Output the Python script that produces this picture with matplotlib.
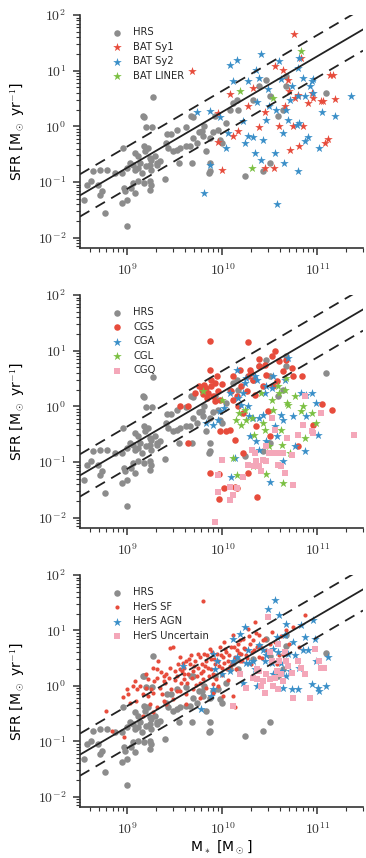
import numpy as np
import matplotlib
matplotlib.use("Agg")
import matplotlib.pyplot as plt
from matplotlib.ticker import FixedLocator, FuncFormatter, LogLocator, NullFormatter

# ---- data: (log10 M*, log10 SFR) ----
HRS = [
    (9.27, 0.53), (9.17, 0.17), (9.20, -0.02), (9.26, -0.02), (9.42, -0.14), (9.46, -0.14),
    (9.52, -0.06), (9.62, -0.02), (9.69, 0.17), (9.75, -0.10), (9.80, -0.18),
    (8.95, -0.39), (9.08, -0.48), (9.11, -0.54), (9.17, -0.36), (9.18, -0.45), (9.22, -0.39),
    (9.24, -0.57), (9.25, -0.60), (9.29, -0.54), (9.31, -0.69), (9.34, -0.63), (9.41, -0.30),
    (9.43, -0.39), (9.48, -0.45), (9.52, -0.42), (9.55, -0.39), (9.62, -0.36), (9.66, -0.36),
    (9.69, -0.21), (9.73, -0.30), (9.83, -0.45), (9.87, -0.21), (9.90, -0.10),
    (8.71, -0.78), (8.78, -0.78), (8.87, -0.84), (8.94, -0.83), (8.99, -0.75), (9.03, -0.66),
    (9.06, -0.69), (9.08, -0.78), (9.11, -0.75), (9.13, -0.66), (9.15, -0.83), (9.20, -0.72),
    (9.24, -0.69), (9.25, -0.78), (9.31, -0.66), (9.39, -0.95), (9.54, -0.66), (9.68, -0.66),
    (9.86, -0.84),
    (8.62, -0.99), (8.69, -1.05), (8.73, -1.17), (8.71, -1.23), (8.54, -1.32), (8.57, -1.05),
    (8.96, -1.11), (8.97, -1.17), (8.94, -1.38), (8.99, -1.32), (9.04, -1.11), (9.06, -1.02),
    (9.08, -1.20), (9.11, -0.99), (9.17, -1.02), (9.24, -0.99), (9.24, -1.14), (9.25, -1.05),
    (8.76, -1.56), (9.00, -1.79), (8.64, -0.81),
    (10.04, 0.06), (10.08, 0.30), (10.11, 0.42), (10.15, 0.48), (10.16, 0.30), (10.24, -0.90),
    (10.32, 0.48), (10.38, 0.72), (10.46, 0.84), (10.50, 0.54), (10.50, -0.66), (10.43, -0.81),
    (10.59, 0.18), (10.64, 0.30), (10.67, 0.72), (10.67, 0.91), (11.09, 0.60), (9.87, -0.66),
    (9.87, -0.81), (9.92, 0.18), (9.95, -0.06), (9.97, -0.24), (10.00, -0.30), (9.78, -0.09),
    (9.81, 0.00), (9.67, 0.18), (9.16, 0.18),
]

BAT_SY1 = [
    (9.68, 1.00), (10.75, 1.66), (10.08, 0.58), (9.95, 0.24), (9.95, -0.29), (9.99, -0.78),
    (10.11, -0.18), (10.16, -0.08), (10.27, 0.36), (10.32, 0.69), (10.39, -0.02), (10.45, 0.25),
    (10.45, -0.75), (10.54, -0.75), (10.55, 1.08), (10.60, 0.00), (10.64, 1.02), (10.69, 0.84),
    (10.70, 0.63), (10.71, -0.42), (10.74, 0.00), (10.76, 0.51), (10.80, 0.57), (10.81, -0.36),
    (10.83, 1.23), (10.85, 0.00), (10.90, 0.42), (10.94, 0.60), (10.95, 0.51), (11.04, 0.45),
    (11.06, 0.45), (11.08, -0.30), (11.11, -0.23), (11.13, 0.93), (11.16, 0.93), (11.18, 0.50),
    (10.66, 0.36),
]
BAT_SY2 = [
    (9.81, -1.19), (9.87, -0.69), (9.73, 0.25), (9.87, 0.27), (9.97, 0.16), (10.04, -0.39),
    (10.06, -0.12), (10.08, 1.11), (10.15, 1.19), (10.22, 0.09), (10.24, -0.30), (10.27, -0.18),
    (10.32, -0.19), (10.34, -0.48), (10.35, 1.02), (10.36, 0.43), (10.39, 0.87), (10.41, 1.30),
    (10.41, -0.60), (10.43, -0.24), (10.46, 0.12), (10.48, 0.67), (10.49, 0.36), (10.55, -0.47),
    (10.56, 0.30), (10.57, -1.39), (10.60, 1.18), (10.62, 0.85), (10.64, -0.12), (10.65, -0.65),
    (10.67, 0.30), (10.69, 0.12), (10.71, 0.48), (10.73, 0.72), (10.78, 0.03), (10.80, 1.05),
    (10.80, 0.55), (10.81, 1.23), (10.81, 0.06), (10.80, -0.81), (10.85, 0.87), (10.87, 0.54),
    (10.87, -0.27), (10.90, -0.19), (10.92, 0.73), (10.94, 0.81), (10.95, 0.60), (10.95, 0.85),
    (11.02, -0.39), (11.05, 0.25), (11.18, 0.18), (11.35, 0.54), (10.11, 0.81), (10.27, 0.81),
]
BAT_LINER = [(10.19, 0.64), (10.53, 0.51), (10.83, 1.35), (10.31, -0.75)]

CGS = [
    (9.87, 1.17), (10.27, 1.16), (9.64, 0.00), (9.64, -0.66), (9.75, 0.37), (9.81, 0.39),
    (9.83, 0.33), (9.85, 0.24), (9.87, 0.66), (9.88, 0.36), (9.90, 0.18), (9.92, 0.42),
    (9.94, 0.54), (9.95, 0.27), (9.97, 0.12), (9.87, -1.19), (9.97, -0.45), (9.96, -1.22),
    (9.96, -1.66), (10.02, -1.47), (10.04, -0.45), (10.08, -0.42), (10.09, 0.27), (10.11, 0.54),
    (10.13, -0.60), (10.13, -1.44), (10.15, 0.18), (10.15, -1.47), (10.18, 0.66), (10.20, 0.36),
    (10.22, -0.84), (10.26, 0.27), (10.27, -1.20), (10.27, 0.54), (10.29, 0.66), (10.30, 0.60),
    (10.32, 0.48), (10.34, 0.21), (10.35, -0.36), (10.36, -1.62), (10.38, 0.85), (10.39, 0.72),
    (10.43, 0.36), (10.45, 0.75), (10.46, 0.57), (10.48, -0.09), (10.50, -0.54), (10.52, 0.91),
    (10.53, 0.37), (10.55, 1.00), (10.57, 0.45), (10.60, 0.81), (10.64, 0.63), (10.67, 0.84),
    (10.73, 0.69), (10.74, 0.55), (10.80, -0.72), (10.84, 0.54), (10.95, -0.33), (11.05, 0.05),
    (11.15, -0.06), (9.78, 0.30), (9.80, 0.22), (9.84, 0.15), (9.88, 0.48), (9.92, 0.10),
    (10.00, 0.40), (9.71, 0.24), (9.55, 0.01), (10.11, 0.12), (10.16, 0.00), (10.22, -0.12),
]
CGA = [
    (9.83, -0.30), (9.90, -0.33), (9.95, -0.24), (9.97, -0.09), (10.02, -0.03), (10.08, 0.24),
    (10.09, -1.26), (10.13, -0.93), (10.15, 0.66), (10.16, 0.15), (10.20, 0.03), (10.22, 0.24),
    (10.24, 0.42), (10.25, 0.51), (10.27, 0.00), (10.28, -0.17), (10.29, -0.54), (10.32, -0.21),
    (10.34, 0.54), (10.35, -0.63), (10.36, 0.48), (10.38, -0.78), (10.39, -0.21), (10.43, -0.15),
    (10.45, 0.24), (10.46, 0.36), (10.46, -0.63), (10.50, -1.35), (10.52, 0.33), (10.53, 0.54),
    (10.55, -0.36), (10.57, -0.54), (10.62, -0.15), (10.64, -0.99), (10.64, -0.24), (10.66, 0.48),
    (10.69, 0.87), (10.74, -0.18), (10.76, -0.72), (10.83, 0.24), (10.87, -0.81), (10.88, -0.18),
    (10.94, 0.24), (10.99, 0.06), (11.01, -0.51), (10.88, 0.21),
]
CGL = [
    (9.80, 0.27), (9.99, 0.12), (10.11, -0.93), (10.14, -0.24), (10.15, -1.23), (10.17, -0.12),
    (10.20, -0.33), (10.24, -0.06), (10.25, -0.24), (10.32, -1.08), (10.33, -0.51), (10.41, 0.24),
    (10.43, -0.30), (10.45, -0.42), (10.46, -1.22), (10.49, -0.72), (10.52, 0.12), (10.53, -0.06),
    (10.59, 0.37), (10.60, 0.24), (10.62, -0.42), (10.63, -0.69), (10.64, -1.38), (10.66, 0.30),
    (10.67, 0.51), (10.68, 0.06), (10.69, 0.03), (10.76, 0.18), (10.83, -0.09), (10.85, 0.00),
    (10.87, -0.57), (10.94, -0.12), (10.99, -0.30), (10.31, -0.21), (10.71, -0.84),
]
CGQ = [
    (9.92, -2.07), (9.95, -1.23), (9.95, -1.53), (10.00, -0.97), (10.08, -1.44), (10.08, -1.68),
    (10.11, -1.60), (10.15, -1.47), (10.22, -1.26), (10.27, -1.05), (10.31, -0.78), (10.33, -1.08),
    (10.35, -0.99), (10.41, -1.17), (10.43, -0.96), (10.46, -0.99), (10.49, -0.84), (10.52, -0.21),
    (10.53, -0.84), (10.55, -0.42), (10.59, -1.05), (10.62, -1.08), (10.64, -0.84), (10.66, -1.20),
    (10.68, -0.57), (10.73, -0.87), (10.74, -1.41), (10.80, -0.51), (10.85, -0.33), (10.87, 0.18),
    (10.94, -0.45), (10.95, -0.48), (11.04, -0.12), (11.39, -0.51), (10.34, -0.84), (10.39, -1.08),
    (10.46, -0.72), (10.57, -0.84),
]

HERS_SF = [
    (8.84, -0.82), (8.96, -0.93), (8.99, -0.06), (9.01, -0.14), (9.06, -0.01), (9.08, 0.09),
    (9.09, -0.27), (9.13, 0.00), (9.16, -0.15), (9.16, -0.55), (9.19, 0.21), (9.20, -0.03),
    (9.22, -0.18), (9.22, 0.12), (9.24, -0.33), (9.27, -0.12), (9.27, 0.33), (9.27, -0.48),
    (9.31, 0.15), (9.31, 0.30), (9.31, -0.39), (9.32, 0.45), (9.34, -0.03), (9.36, -0.15),
    (9.38, 0.09), (9.38, 0.18), (9.38, -0.27), (9.41, 0.21), (9.41, -0.33), (9.45, 0.33),
    (9.45, 0.68), (9.48, 0.71), (9.48, -0.24), (9.50, 0.27), (9.52, 0.18), (9.53, 0.39),
    (9.55, 0.52), (9.55, -0.09), (9.57, 0.27), (9.59, 0.12), (9.60, 0.33), (9.62, 0.45),
    (9.62, -0.15), (9.62, -0.33), (9.64, 0.21), (9.66, 0.39), (9.67, 0.55), (9.69, 0.27),
    (9.69, -0.06), (9.71, 0.45), (9.73, 0.18), (9.74, 0.33), (9.76, 0.52), (9.76, -0.21),
    (9.76, 0.06), (9.78, 0.39), (9.80, 0.27), (9.80, 1.53), (9.81, 0.58), (9.83, 0.45),
    (9.83, -0.03), (9.85, 0.33), (9.87, 0.67), (9.88, 0.48), (9.90, 0.21), (9.90, 0.03),
    (9.92, 0.39), (9.94, 0.58), (9.95, 0.45), (9.97, 0.70), (9.99, 0.33), (10.01, 0.52),
    (10.01, -0.18), (10.02, 0.79), (10.04, 0.61), (10.06, 0.45), (10.08, 0.36), (10.09, 0.70),
    (10.11, 0.91), (10.11, -0.18), (10.13, 0.52), (10.13, -0.39), (10.15, 0.64), (10.16, 0.76),
    (10.18, 0.45), (10.20, 0.58), (10.22, 0.85), (10.24, 0.67), (10.25, 0.55), (10.27, 1.03),
    (10.29, 0.76), (10.31, 0.61), (10.32, 0.82), (10.34, 1.15), (10.36, 0.70), (10.38, 0.91),
    (10.39, 0.52), (10.43, 0.82), (10.46, 0.64), (10.50, 0.76), (10.52, 0.97), (10.57, 0.39),
    (10.64, 0.58), (10.67, 1.00), (10.74, 1.06), (10.81, 0.70), (10.87, 1.27),
    (9.50, 0.10), (9.55, 0.30), (9.58, 0.42), (9.60, 0.22), (9.63, 0.05), (9.65, 0.48),
    (9.68, 0.15), (9.70, 0.36), (9.72, 0.02), (9.74, 0.58), (9.77, 0.24), (9.79, 0.12),
    (9.82, 0.36), (9.84, 0.55), (9.86, 0.18), (9.88, 0.30), (9.89, 0.62), (9.91, 0.48),
    (9.93, 0.12), (9.96, 0.36), (9.98, 0.55), (10.00, 0.20), (10.02, 0.42), (10.03, 0.66),
    (10.05, 0.30), (10.07, 0.55), (10.10, 0.40), (10.12, 0.70), (10.14, 0.30), (10.17, 0.60),
    (10.19, 0.82), (10.21, 0.45), (10.23, 0.68), (10.26, 0.50), (10.28, 0.90), (10.30, 0.40),
    (10.33, 0.65), (10.35, 0.95), (10.40, 0.70), (10.42, 0.50), (10.45, 0.85), (10.48, 0.60),
    (10.55, 0.80), (10.60, 0.55), (10.62, 0.90), (10.70, 0.75), (9.40, 0.05), (9.44, 0.15),
    (9.35, 0.25), (9.28, 0.08), (9.25, -0.05), (9.46, -0.05), (9.52, -0.10), (9.56, 0.05),
    (9.90, -0.12), (9.95, 0.00), (10.06, 0.10), (8.95, -0.20), (9.03, -0.30), (9.10, -0.05),
    (8.77, -0.45),
]
HERS_AGN = [
    (9.77, -0.42), (9.88, -0.18), (9.90, -0.06), (9.90, 0.58), (9.58, 0.36), (9.92, 0.30),
    (9.94, 0.45), (9.99, 0.21), (10.08, 0.27), (10.11, 0.45), (10.15, 0.52), (10.18, 0.94),
    (10.22, 0.06), (10.24, 1.06), (10.25, 0.42), (10.27, 0.64), (10.32, 0.45), (10.34, 0.30),
    (10.36, 0.00), (10.38, 0.73), (10.43, 0.64), (10.45, 0.45), (10.46, 0.55), (10.48, 1.39),
    (10.52, 0.42), (10.53, 0.67), (10.55, 1.55), (10.57, 0.88), (10.59, 0.61), (10.60, 1.27),
    (10.62, 0.42), (10.63, 0.27), (10.64, -0.03), (10.66, 0.91), (10.67, 1.12), (10.69, 0.58),
    (10.71, 0.27), (10.73, -0.06), (10.74, 0.79), (10.76, 0.55), (10.80, -0.06), (10.81, 0.33),
    (10.83, 1.09), (10.85, 0.64), (10.87, 0.88), (10.90, 0.64), (10.94, 0.03), (10.95, 1.18),
    (10.97, 0.85), (10.99, 0.45), (11.01, -0.03), (11.02, -0.09), (11.09, 0.00), (11.11, 0.52),
    (10.67, 0.18), (10.53, 0.22), (10.11, 0.85), (10.28, 0.42),
]
HERS_UNC = [
    (10.11, -0.36), (10.18, 0.21), (10.25, -0.03), (10.32, 0.15), (10.36, 0.12), (10.39, 0.27),
    (10.41, 0.00), (10.43, 0.09), (10.46, 0.21), (10.48, 1.24), (10.50, 0.61), (10.52, 0.45),
    (10.53, 0.00), (10.55, 0.15), (10.57, 0.27), (10.59, 0.76), (10.60, 0.45), (10.62, 0.21),
    (10.64, 0.09), (10.66, 0.61), (10.67, 0.45), (10.69, 0.36), (10.73, 0.24), (10.74, -0.21),
    (10.80, 0.45), (10.83, 0.33), (10.87, 0.21), (10.92, -0.21), (10.97, 0.67), (11.02, 0.45),
    (11.04, 0.33), (11.07, 0.33), (10.50, 0.12), (10.45, -0.12), (10.36, 0.30), (10.59, -0.06),
]

# main-sequence relation: log SFR = slope * log M + zero, scatter band
MS_SLOPE = 1.0
MS_ZERO = -9.74
MS_SCATTER = 0.38

GRAY = "#8c8c8c"
RED = "#e74c3c"
BLUE = "#3a8fc8"
GREEN = "#7bc043"
PINK = "#f4a7b9"

plt.rcParams["font.family"] = ["DejaVu Sans"]
plt.rcParams["mathtext.fontset"] = "cm"
plt.rcParams["axes.edgecolor"] = "#333333"
plt.rcParams["text.color"] = "#262626"

XLIM = (10 ** 8.5, 10 ** 11.48)
YLIM = (10 ** -2.185, 1e2)


def xy(pairs):
    a = np.array(pairs, dtype=float)
    return 10 ** a[:, 0], 10 ** a[:, 1]


def decade_fmt(v, pos):
    return r"$10^{%d}$" % int(round(np.log10(v)))


def style_axes(ax):
    ax.set_xscale("log")
    ax.set_yscale("log")
    ax.set_xlim(*XLIM)
    ax.set_ylim(*YLIM)
    for s in ("top", "right"):
        ax.spines[s].set_visible(False)
    for s in ("left", "bottom"):
        ax.spines[s].set_linewidth(1.2)
    ax.xaxis.set_major_locator(FixedLocator([1e9, 1e10, 1e11]))
    ax.yaxis.set_major_locator(FixedLocator([1e-2, 1e-1, 1e0, 1e1, 1e2]))
    ax.xaxis.set_minor_locator(LogLocator(base=10, subs=np.arange(2, 10)))
    ax.yaxis.set_minor_locator(LogLocator(base=10, subs=np.arange(2, 10)))
    ax.xaxis.set_major_formatter(FuncFormatter(decade_fmt))
    ax.yaxis.set_major_formatter(FuncFormatter(decade_fmt))
    ax.xaxis.set_minor_formatter(NullFormatter())
    ax.yaxis.set_minor_formatter(NullFormatter())
    ax.tick_params(which="major", direction="out", length=5, width=1.1,
                   colors="#333333", labelsize=10, pad=5)
    ax.tick_params(which="minor", direction="out", length=3, width=0.8, colors="#333333")
    ax.set_ylabel(r"SFR [M$_\odot$ yr$^{-1}$]", fontsize=10, labelpad=8)

    # relation and +/- scatter
    lm = np.log10(np.array(XLIM))
    ax.plot(10 ** lm, 10 ** (MS_SLOPE * lm + MS_ZERO), color="#222222", lw=1.3, zorder=5)
    for sgn in (1, -1):
        ax.plot(10 ** lm, 10 ** (MS_SLOPE * lm + MS_ZERO + sgn * MS_SCATTER),
                color="#222222", lw=1.3, dashes=(6, 4), zorder=5)


def legend(ax):
    ax.legend(loc="upper left", frameon=False, fontsize=7.2, handletextpad=0.6,
              borderaxespad=0.5, labelspacing=0.45, markerscale=1.0,
              bbox_to_anchor=(0.065, 0.985))


fig = plt.figure(figsize=(3.66, 8.58), dpi=100)
W, H = 366.0, 858.0
ax1 = fig.add_axes([80 / W, 1 - 248 / H, 283 / W, 233 / H])
ax2 = fig.add_axes([80 / W, 1 - 528 / H, 283 / W, 233 / H])
ax3 = fig.add_axes([80 / W, 1 - 807 / H, 283 / W, 232 / H])

# panel 1: BAT
style_axes(ax1)
ax1.scatter(*xy(HRS), s=22, color=GRAY, lw=0, label="HRS", zorder=2)
ax1.scatter(*xy(BAT_SY1), s=42, marker="*", color=RED, lw=0, label="BAT Sy1", zorder=3)
ax1.scatter(*xy(BAT_SY2), s=42, marker="*", color=BLUE, lw=0, label="BAT Sy2", zorder=3)
ax1.scatter(*xy(BAT_LINER), s=42, marker="*", color=GREEN, lw=0, label="BAT LINER", zorder=3)
legend(ax1)

# panel 2: CGS
style_axes(ax2)
ax2.scatter(*xy(HRS), s=22, color=GRAY, lw=0, label="HRS", zorder=2)
ax2.scatter(*xy(CGS), s=22, color=RED, lw=0, label="CGS", zorder=3)
ax2.scatter(*xy(CGA), s=42, marker="*", color=BLUE, lw=0, label="CGA", zorder=3)
ax2.scatter(*xy(CGL), s=42, marker="*", color=GREEN, lw=0, label="CGL", zorder=3)
ax2.scatter(*xy(CGQ), s=20, marker="s", color=PINK, lw=0, label="CGQ", zorder=3)
legend(ax2)

# panel 3: HerS
style_axes(ax3)
ax3.scatter(*xy(HRS), s=22, color=GRAY, lw=0, label="HRS", zorder=2)
ax3.scatter(*xy(HERS_SF), s=9, color=RED, lw=0, label="HerS SF", zorder=3)
ax3.scatter(*xy(HERS_AGN), s=42, marker="*", color=BLUE, lw=0, label="HerS AGN", zorder=3)
ax3.scatter(*xy(HERS_UNC), s=20, marker="s", color=PINK, lw=0, label="HerS Uncertain", zorder=3)
legend(ax3)
ax3.set_xlabel(r"M$_*$ [M$_\odot$]", fontsize=10, labelpad=1)

fig.savefig("out.png", dpi=100)
